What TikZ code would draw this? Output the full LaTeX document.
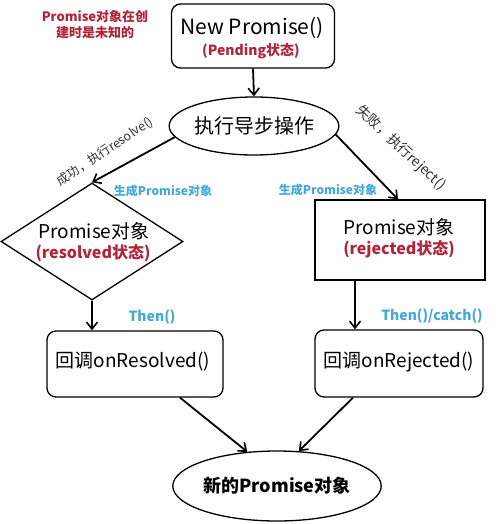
\documentclass[tikz,border=0pt]{standalone}
\usepackage{fontspec}
\setmainfont{Noto Sans CJK SC}
\usetikzlibrary{shapes.geometric,arrows.meta,calc}
\definecolor{redtxt}{HTML}{B0243A}
\definecolor{cyantxt}{HTML}{45A8D8}
\definecolor{graytxt}{HTML}{303030}
\tikzset{
  rbox/.style={draw,line width=1.3pt,rounded corners=9pt,align=center,inner sep=0pt},
  sqbox/.style={draw,line width=1.3pt,align=center,inner sep=0pt},
  ell/.style={draw,ellipse,line width=1.3pt,align=center,inner sep=0pt},
  dia/.style={draw,diamond,line width=1.3pt,align=center,inner sep=0pt},
  arr/.style={line width=1.8pt,-{Straight Barb[length=7pt,width=11pt,line width=1.6pt]}},
  lbl/.style={font=\fontsize{12}{14}\selectfont\bfseries,text=cyantxt,inner sep=0pt},
  thenlbl/.style={font=\fontsize{14}{16}\selectfont\bfseries,text=cyantxt,inner sep=0pt},
  note/.style={text=graytxt,inner sep=0pt},
  big/.style={font=\fontsize{19}{22}\selectfont},
  mid/.style={font=\fontsize{19}{22}\selectfont},
  state/.style={font=\fontsize{16}{18}\selectfont\bfseries,text=redtxt},
  pstate/.style={font=\fontsize{14}{16}\selectfont\bfseries,text=redtxt}
}
\begin{document}
\begin{tikzpicture}[x=1pt,y=-1pt]
\useasboundingbox (0,0) rectangle (500,524);
\fill[white] (0,0) rectangle (500,524);
% top-left note
\node[font=\fontsize{13}{16}\selectfont\bfseries,text=redtxt,align=center,inner sep=0pt] (unk) at (95,25) {Promise对象在创\\建时是未知的};
% nodes
\node[rbox,minimum width=163pt,minimum height=64pt] (np) at (253,36) {};
\node[font=\fontsize{21}{24}\selectfont] (nptxt) at (252,28) {New Promise()};
\node[pstate] (pend) at (251,51) {(Pending状态)};
\node[ell,minimum width=165pt,minimum height=58pt,font=\fontsize{20}{24}\selectfont] (op) at (254,126) {执行导步操作};
\node[dia,minimum width=182pt,minimum height=117pt] (res) at (92,241.5) {};
\node[mid] (restxt) at (94,231) {Promise对象};
\node[state] (resst) at (93,253) {(resolved状态)};
\node[sqbox,minimum width=170pt,minimum height=80pt] (rej) at (400,240) {};
\node[mid] (rejtxt) at (399,227) {Promise对象};
\node[state] (rejst) at (399,249) {(rejected状态)};
\node[rbox,minimum width=176pt,minimum height=66pt] (onres) at (135,364) {};
\node[big] (onrestxt) at (133,362) {回调onResolved()};
\node[rbox,minimum width=168pt,minimum height=67pt] (onrej) at (399,363.5) {};
\node[big] (onrejtxt) at (399,362) {回调onRejected()};
\node[ell,minimum width=198pt,minimum height=70pt,font=\fontsize{18}{22}\selectfont\bfseries] (newp) at (277,486) {新的Promise对象};
% connectors
\draw[arr] (np.south) -- (op.north);
\draw[arr] (op.188) -- (res.north);
\draw[arr] (op.-6) -- ([xshift=-2pt]rej.north);
\draw[arr] (res.south) -- (res.south |- onres.north);
\draw[arr] ([xshift=-45pt]rej.south) -- ([xshift=-45pt]rej.south |- onrej.north);
\draw[arr] ([xshift=45pt]onres.south) -- (newp.131);
\draw[arr] ([xshift=-46pt]onrej.south) -- (newp.58);
% labels
\node[note,font=\fontsize{12.5}{14}\selectfont,rotate=34] (succ) at (105,152) {成功，执行resolve()};
\node[note,font=\fontsize{14}{16}\selectfont,rotate=-43] (fail) at (401,148) {失败，执行reject()};
\node[lbl] (gen1) at (163,191) {生成Promise对象};
\node[lbl] (gen2) at (328,190) {生成Promise对象};
\node[thenlbl] (then1) at (152,317) {Then()};
\node[thenlbl] (then2) at (432,316) {Then()/catch()};
\end{tikzpicture}
\end{document}
